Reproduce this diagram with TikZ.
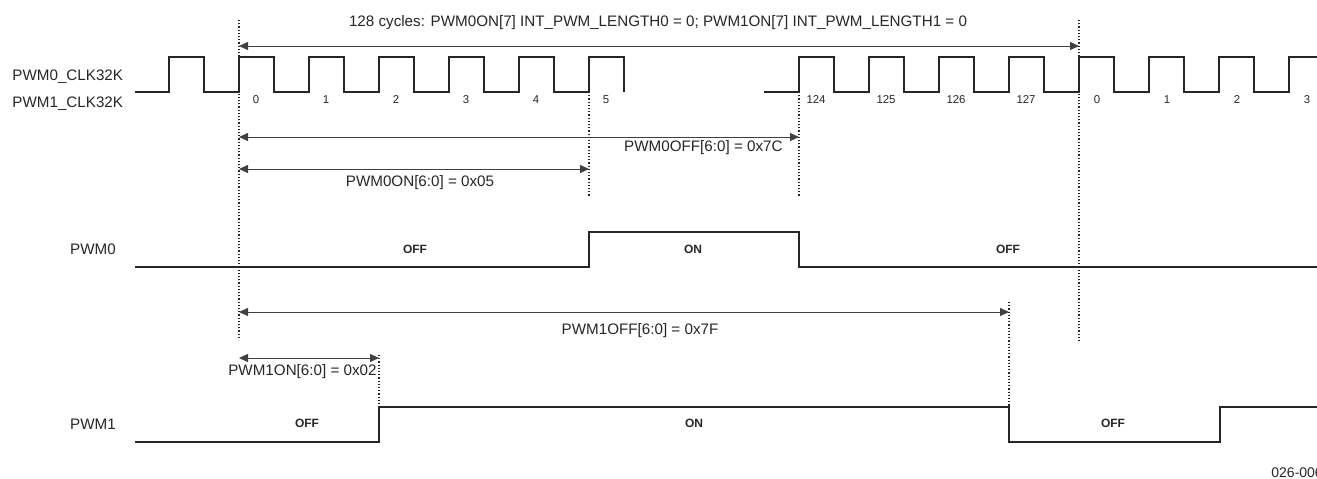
\documentclass[tikz,border=0pt]{standalone}
\usepackage{fontspec}
\setmainfont{Liberation Sans}
\usetikzlibrary{arrows.meta}

\tikzset{
  wave/.style={line width=0.8pt, black!85},
  marker/.style={densely dotted, line width=0.6pt, black!85},
  span/.style={<->, line width=0.5pt, black!75},
  lbl/.style={font=\fontsize{7.6}{9}\selectfont, text=black!85, inner sep=0pt},
  tick/.style={font=\fontsize{5.7}{7}\selectfont, text=black!85, inner sep=0pt},
  state/.style={font=\fontsize{6}{7}\selectfont\bfseries, text=black!85, inner sep=0pt}
}

\begin{document}
\begin{tikzpicture}[x=0.5pt, y=-0.5pt, >={Triangle[length=4.5pt,width=4pt]}]
    \useasboundingbox (0,0) rectangle (1317,478);
    \clip (0,0) rectangle (1317,478);

    % Signal names
    \node[lbl, anchor=west] (clk0) at (12,77) {PWM0\_CLK32K};
    \node[lbl, anchor=west] (clk1) at (12,104) {PWM1\_CLK32K};
    \node[lbl] (pwm0) at (93,249) {PWM0};
    \node[lbl] (pwm1) at (93,424) {PWM1};

    % Clock
    \draw[wave] (135,92) -- (169,92)
        \foreach \k in {0,...,5} { -- ++(0,-35) -- ++(35,0) -- ++(0,35) -- ++(35,0) }
        -- ++(0,-35) -- ++(35,0) -- ++(0,35);
    \draw[wave] (764,92) -- (799,92)
        \foreach \k in {0,...,7} { -- ++(0,-35) -- ++(35,0) -- ++(0,35) -- ++(35,0) };

    % Cycle numbers
    \foreach \n [count=\k from 0] in {0,...,5}
        \node[tick] (a\k) at (256+70*\k,100) {\n};
    \foreach \n [count=\k from 0] in {124,...,127}
        \node[tick] (b\k) at (816+70*\k,100) {\n};
    \foreach \n [count=\k from 0] in {0,...,3}
        \node[tick] (d\k) at (1097+70*\k,100) {\n};

    % Markers
    \draw[marker] (239,20) -- (239,340);
    \draw[marker] (1079,20) -- (1079,342);
    \draw[marker] (589,92) -- (589,197);
    \draw[marker] (799,92) -- (799,197);
    \draw[marker] (1009,302) -- (1009,407);
    \draw[marker] (379,355) -- (379,407);

    % Spans
    \draw[span] (239,46) -- (1079,46);
    \node[lbl] (cyc) at (658,23) {128 cycles: PWM0ON[7] INT\_PWM\_LENGTH0 = 0; PWM1ON[7] INT\_PWM\_LENGTH1 = 0};
    \draw[span] (239,137) -- (799,137);
    \node[lbl, anchor=east] (off0) at (783,148) {PWM0OFF[6:0] = 0x7C};
    \draw[span] (239,169) -- (589,169);
    \node[lbl] (on0) at (420,183) {PWM0ON[6:0] = 0x05};
    \draw[span] (239,312) -- (1009,312);
    \node[lbl] (off1) at (640,331) {PWM1OFF[6:0] = 0x7F};
    \draw[span] (239,358) -- (379,358);
    \node[lbl, anchor=east] (on1) at (377,372) {PWM1ON[6:0] = 0x02};

    % PWM0
    \draw[wave] (135,267) -- (589,267) -- (589,232) -- (799,232) -- (799,267) -- (1317,267);
    \node[state] (s01) at (415,249) {OFF};
    \node[state] (s02) at (693,249) {ON};
    \node[state] (s03) at (1008,249) {OFF};

    % PWM1
    \draw[wave] (135,442) -- (379,442) -- (379,407) -- (1009,407) -- (1009,442)
        -- (1220,442) -- (1220,407) -- (1317,407);
    \node[state] (s11) at (307,423) {OFF};
    \node[state] (s12) at (694,423) {ON};
    \node[state] (s13) at (1113,423) {OFF};

    \node[lbl, font=\fontsize{7}{8}\selectfont, anchor=west] (fig) at (1271,473) {026-006};
\end{tikzpicture}
\end{document}
